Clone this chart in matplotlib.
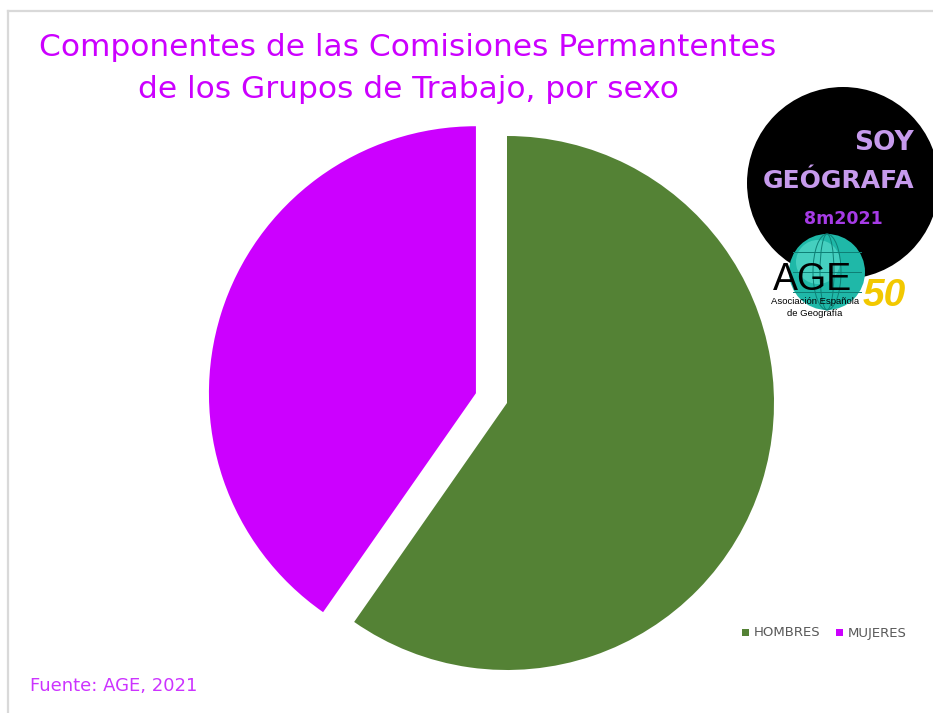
import matplotlib
matplotlib.use("Agg")
import matplotlib.pyplot as plt
from matplotlib.patches import Circle, Ellipse, Rectangle
from matplotlib.lines import Line2D

# data (shares, roughly 60 / 40)
labels = ["HOMBRES", "MUJERES"]
values = [59.7, 40.3]
colors = ["#548235", "#CC00FF"]
explode = [0.0, 0.122]

title_lines = ["Componentes de las Comisiones Permantentes",
               "de los Grupos de Trabajo, por sexo"]
source = "Fuente: AGE, 2021"

W, H = 933, 713
fig = plt.figure(figsize=(W / 100, H / 100), dpi=100)
fig.patch.set_facecolor("white")

# pie axes: radius 1 -> ~267 px, centre at (507, 403) px from top-left
R = 267
cx, cy = 507, 403
half = 1.3
side = 2 * half * R
ax = fig.add_axes([(cx - side / 2) / W, (H - cy - side / 2) / H, side / W, side / H])
ax.pie(values, colors=colors, explode=explode, startangle=90, counterclock=False,
       wedgeprops=dict(linewidth=0))
ax.set_xlim(-half, half)
ax.set_ylim(-half, half)
ax.set_aspect("equal")
ax.axis("off")

# overlay in pixel coordinates for frame, text and logo
ov = fig.add_axes([0, 0, 1, 1], zorder=5)
ov.set_xlim(0, W)
ov.set_ylim(H, 0)
ov.axis("off")
ov.patch.set_alpha(0)

# light frame lines
ov.add_line(Line2D([8, W], [11, 11], color="#D9D9D9", lw=1.6))
ov.add_line(Line2D([8, 8], [11, H], color="#D9D9D9", lw=1.6))

# title
ov.text(408, 48, title_lines[0], ha="center", va="center", fontsize=22.5,
        color="#CC00FF", family="DejaVu Sans")
ov.text(408, 89, title_lines[1], ha="center", va="center", fontsize=22.5,
        color="#CC00FF", family="DejaVu Sans")

# legend
for i, (lab, col) in enumerate(zip(labels, colors)):
    x0 = [742, 836][i]
    ov.add_patch(Rectangle((x0, 629), 7, 7, color=col, lw=0))
    ov.text(x0 + 12, 633, lab, ha="left", va="center", fontsize=9.5, color="#595959")

# source
ov.text(30, 686, source, ha="left", va="center", fontsize=13, color="#CC33FF")

# logo: black circle with text
ov.add_patch(Circle((843, 183), 96, color="black", lw=0))
ov.text(914, 143, "SOY", ha="right", va="center", fontsize=19, fontweight="bold",
        color="#C69AEC")
ov.text(914, 181, "GEÓGRAFA", ha="right", va="center", fontsize=18, fontweight="bold",
        color="#C69AEC")
ov.text(843, 219, "8m2021", ha="center", va="center", fontsize=12.5, fontweight="bold",
        color="#A63BE6")

# globe
ov.add_patch(Circle((827, 272), 38, color="#1FB8A8", lw=0))
ov.add_patch(Circle((818, 262), 22, color="#5FE0D0", lw=0, alpha=0.6))
for w in [14, 28]:
    ov.add_patch(Ellipse((827, 272), w, 76, fill=False, ec="#0E7F75", lw=0.7))
for dy in [-20, 0, 20]:
    ov.add_line(Line2D([827 - 34, 827 + 34], [272 + dy, 272 + dy], color="#0E7F75", lw=0.7))
ov.text(812, 280, "AGE", ha="center", va="center", fontsize=27, color="black",
        family="Liberation Sans")
ov.text(815, 301, "Asociación Española", ha="center", va="center", fontsize=6.8,
        color="black", family="Liberation Sans")
ov.text(815, 313, "de Geografía", ha="center", va="center", fontsize=6.8,
        color="black", family="Liberation Sans")
ov.text(884, 296, "50", ha="center", va="center", fontsize=28, fontstyle="italic",
        fontweight="bold", color="#F2C800", family="Liberation Sans")

fig.savefig("out.png", dpi=100)
